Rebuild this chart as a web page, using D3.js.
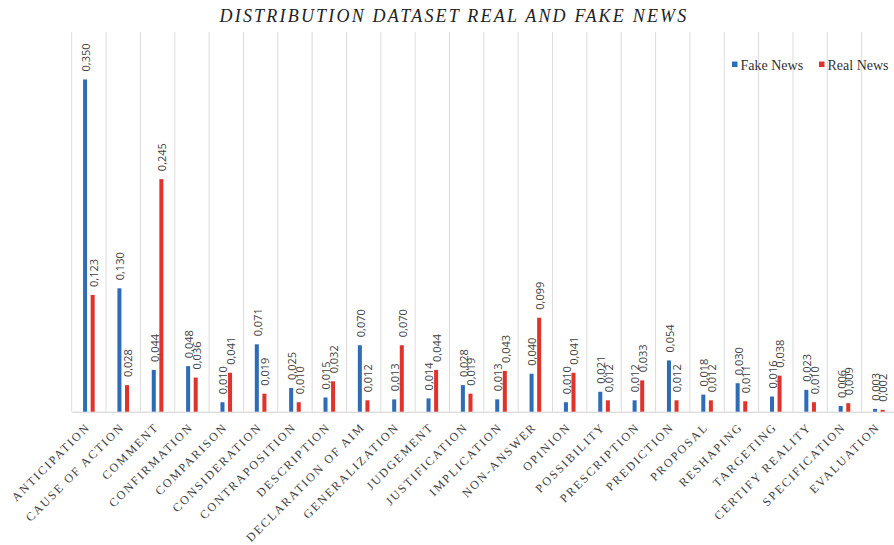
<!DOCTYPE html>
<html>
<head>
<meta charset="utf-8">
<script src="https://cdn.jsdelivr.net/npm/d3@7"></script>
<style>
  html, body { margin: 0; padding: 0; background: #ffffff; }
  svg { display: block; }
</style>
</head>
<body>
<svg id="chart" width="894" height="545"></svg>
<script>
const categories = ["ANTICIPATION", "CAUSE OF ACTION", "COMMENT", "CONFIRMATION", "COMPARISON",
  "CONSIDERATION", "CONTRAPOSITION", "DESCRIPTION", "DECLARATION OF AIM", "GENERALIZATION",
  "JUDGEMENT", "JUSTIFICATION", "IMPLICATION", "NON-ANSWER", "OPINION", "POSSIBILITY",
  "PRESCRIPTION", "PREDICTION", "PROPOSAL", "RESHAPING", "TARGETING", "CERTIFY REALITY",
  "SPECIFICATION", "EVALUATION"];
const fakeNews = [0.350, 0.130, 0.044, 0.048, 0.010, 0.071, 0.025, 0.015, 0.070, 0.013,
  0.014, 0.028, 0.013, 0.040, 0.010, 0.021, 0.012, 0.054, 0.018, 0.030, 0.016, 0.023, 0.006, 0.003];
const realNews = [0.123, 0.028, 0.245, 0.036, 0.041, 0.019, 0.010, 0.032, 0.012, 0.070,
  0.044, 0.019, 0.043, 0.099, 0.041, 0.012, 0.033, 0.012, 0.012, 0.011, 0.038, 0.010, 0.009, 0.002];
const seriesNames = ["Fake News", "Real News"];
const seriesColors = ["#2E6DB5", "#E0332B"];
const titleText = "DISTRIBUTION DATASET REAL AND FAKE NEWS";

const svg = d3.select("#chart");
const plot = { left: 71.7, right: 896, top: 32, bottom: 411.7 };

const x = d3.scaleBand().domain(categories).range([plot.left, plot.right]).padding(0);
const y = d3.scaleLinear().domain([0, 0.4]).range([plot.bottom, plot.top]);
const sub = d3.scaleBand().domain(seriesNames).range([-9.6, 9.6]).paddingInner(0.47).paddingOuter(0.5);

const fmt = v => d3.format(".3f")(v).replace(".", ",");

// vertical gridlines
svg.append("g").selectAll("line")
  .data(categories.concat(["__end"]))
  .join("line")
  .attr("x1", (d, i) => i < categories.length ? x(d) : plot.right)
  .attr("x2", (d, i) => i < categories.length ? x(d) : plot.right)
  .attr("y1", plot.top)
  .attr("y2", plot.bottom)
  .attr("stroke", "#dcdcdc")
  .attr("stroke-width", 1);

// baseline axis
const xAxis = d3.axisBottom(x).tickSize(0).tickFormat("");
svg.append("g")
  .attr("transform", `translate(0,${plot.bottom})`)
  .call(xAxis)
  .call(g => g.select(".domain").attr("stroke", "#d0d0d0"));

const data = categories.map((c, i) => ({ c, vals: [fakeNews[i], realNews[i]] }));

const groups = svg.append("g").selectAll("g")
  .data(data)
  .join("g")
  .attr("transform", d => `translate(${x(d.c) + x.bandwidth() / 2},0)`);

groups.selectAll("rect")
  .data(d => d.vals.map((v, k) => ({ v, k })))
  .join("rect")
  .attr("x", d => sub(seriesNames[d.k]))
  .attr("width", sub.bandwidth())
  .attr("y", d => y(d.v))
  .attr("height", d => y(0) - y(d.v))
  .attr("fill", d => seriesColors[d.k]);

groups.selectAll("text")
  .data(d => d.vals.map((v, k) => ({ v, k })))
  .join("text")
  .attr("transform", d => `translate(${sub(seriesNames[d.k]) + sub.bandwidth() / 2 + 1},${y(d.v) - 8}) rotate(-90)`)
  .attr("dy", "0.35em")
  .attr("text-anchor", "start")
  .attr("font-family", "'Open Sans', sans-serif")
  .attr("font-size", 11)
  .attr("fill", "#404040")
  .text(d => fmt(d.v));

// x labels
svg.append("g").selectAll("text")
  .data(categories)
  .join("text")
  .attr("transform", d => `translate(${x(d) + x.bandwidth() / 2 + 2},${plot.bottom + 16}) rotate(-45)`)
  .attr("text-anchor", "end")
  .attr("font-family", "'Liberation Serif', 'Times New Roman', serif")
  .attr("font-size", 12)
  .attr("letter-spacing", "1.9px")
  .attr("fill", "#404040")
  .text(d => d);

// title
svg.append("text")
  .attr("x", 454)
  .attr("y", 22)
  .attr("text-anchor", "middle")
  .attr("font-family", "'Liberation Serif', 'Times New Roman', serif")
  .attr("font-style", "italic")
  .attr("font-size", 18)
  .attr("letter-spacing", "2.2px")
  .attr("fill", "#222")
  .text(titleText);

// legend
const legend = svg.append("g");
const legendX = [732, 819];
seriesNames.forEach((s, i) => {
  legend.append("rect")
    .attr("x", legendX[i]).attr("y", 61.5)
    .attr("width", 5.5).attr("height", 5.5)
    .attr("fill", seriesColors[i]);
  legend.append("text")
    .attr("x", legendX[i] + 8.5).attr("y", 69.5)
    .attr("font-family", "'Liberation Serif', 'Times New Roman', serif")
    .attr("font-size", 14)
    .attr("fill", "#333")
    .text(s);
});
</script>
</body>
</html>
